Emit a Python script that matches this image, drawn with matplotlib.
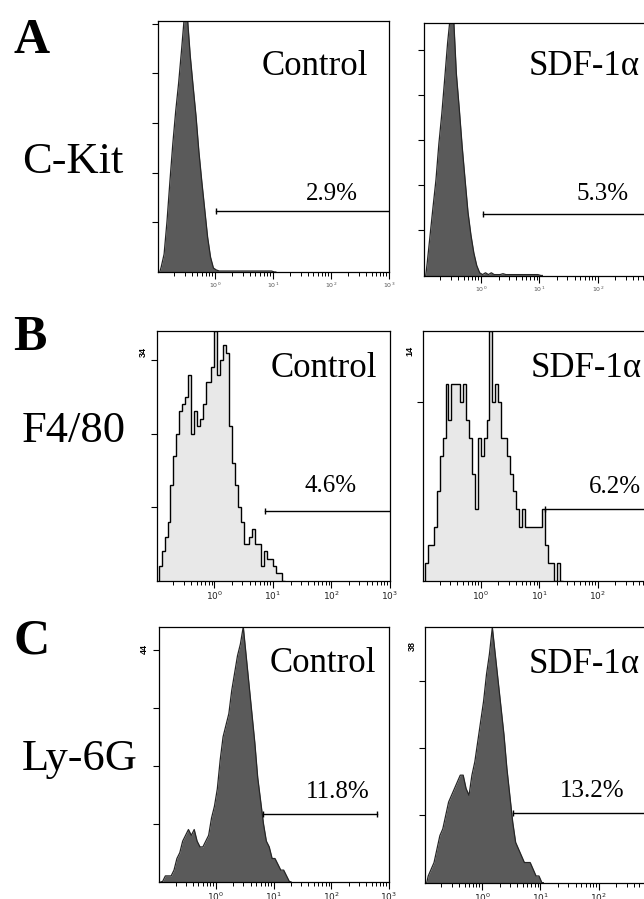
import numpy as np
import matplotlib.pyplot as plt
from matplotlib.ticker import LogLocator, NullFormatter, FixedLocator

plt.rcParams['font.family'] = ['Liberation Serif', 'DejaVu Serif']

W, H = 644, 899

row_letters = ["A", "B", "C"]
markers = ["C-Kit", "F4/80", "Ly-6G"]
groups = ["Control", "SDF-1\u03b1"]
percent = [["2.9%", "5.3%"], ["4.6%", "6.2%"], ["11.8%", "13.2%"]]

# histogram counts, bins of 0.05 decade starting at 10^-0.95
bin_start = -0.95
bin_step = 0.05
ckit_ctrl = [5, 18, 51, 91, 129, 162, 190, 223, 258, 258, 218, 187, 157, 121, 91, 63, 35, 15, 4, 2,
             1, 1, 1, 1, 1, 1, 1, 1, 1, 1, 1, 1, 1, 1, 1, 1, 1, 1, 1, 0]
ckit_sdf = [14, 45, 76, 106, 146, 179, 218, 258, 290, 290, 224, 185, 143, 106, 70, 45, 25, 11, 3, 1,
            3, 1, 3, 1, 1, 1, 2, 1, 1, 1, 1, 1, 1, 1, 1, 1, 1, 1, 1, 0]
f480_ctrl = [2, 4, 6, 8, 13, 17, 20, 23, 24, 25, 28, 20, 23, 21, 22, 24, 27, 27, 29, 34,
             28, 30, 32, 31, 21, 16, 13, 10, 8, 5, 5, 6, 7, 5, 5, 2, 4, 3, 3, 2, 1, 1, 0]
f480_sdf = [1, 2, 2, 3, 5, 7, 8, 11, 9, 11, 11, 11, 10, 11, 9, 8, 6, 4, 8, 7, 8, 9, 14, 10,
            11, 10, 8, 8, 7, 6, 5, 4, 3, 4, 3, 3, 3, 3, 3, 3, 4, 2, 1, 1, 0, 1, 0]
ly6g_ctrl = [0, 1, 1, 1, 2, 4, 5, 7, 8, 9, 8, 9, 7, 6, 6, 7, 8, 11, 13, 16, 21, 25, 27, 29,
             33, 36, 39, 41, 44, 39, 34, 29, 24, 18, 14, 10, 7, 6, 4, 4, 3, 2, 2, 1, 0]
ly6g_sdf = [1, 2, 3, 5, 7, 8, 10, 12, 13, 14, 15, 16, 16, 14, 13, 16, 18, 21, 24, 27, 31, 34,
            38, 34, 30, 26, 22, 17, 13, 9, 6, 5, 4, 3, 3, 3, 2, 1, 1, 0]
hists = [[ckit_ctrl, ckit_sdf], [f480_ctrl, f480_sdf], [ly6g_ctrl, ly6g_sdf]]

y_max = [[253, 280], [34, 14], [44, 38]]
y_max_label = [[None, None], ["34", "14"], ["44", "38"]]
y_tick_step = [[50, 50], [10, 10], [10, 10]]

# marker gates (M1)
gate_start = [[1.05, 1.07], [7.2, 12.5], [6.5, 3.4]]
gate_end = [[1000, 1000], [1000, 1000], [617, 1000]]
gate_y = [[61, 68], [9.5, 4.0], [11.7, 10.3]]

# layout (pixel boxes: left, top, right, bottom)
boxes = [[(158, 20.7, 389, 272), (424, 23, 656, 275.5)],
         [(157, 330.5, 390, 580.7), (423.3, 330.7, 656.3, 580.7)],
         [(159.3, 626.7, 389, 881.7), (425, 627.3, 657, 882.7)]]
grp_pos = [[(0.909, 0.785), (0.93, 0.794)], [(0.944, 0.815), (0.937, 0.815)],
           [(0.946, 0.822), (0.927, 0.821)]]
pct_pos = [[(0.751, 0.287), (0.77, 0.299)], [(0.747, 0.355), (0.823, 0.351)],
           [(0.777, 0.328), (0.72, 0.336)]]
ymax_pos = [[None, None], [(-0.058, 0.915), (-0.058, 0.92)],
            [(-0.064, 0.912), (-0.054, 0.927)]]
letter_base = [53, 350, 653]
marker_base = [173, 442, 770]

fig = plt.figure(figsize=(W / 100, H / 100), dpi=100)

for r in range(3):
    fig.text(13 / W, 1 - letter_base[r] / H, row_letters[r], fontsize=36,
             fontweight='bold', va='baseline', ha='left')
    fig.text(22 / W, 1 - marker_base[r] / H, markers[r], fontsize=32,
             va='baseline', ha='left')
    for c in range(2):
        l, t, rr, b = boxes[r][c]
        ax = fig.add_axes([l / W, 1 - b / H, (rr - l) / W, (b - t) / H])
        counts = np.array(hists[r][c], dtype=float)
        edges = 10 ** (bin_start + bin_step * np.arange(len(counts) + 1))
        if r == 1:
            # F4/80: open step histogram, light fill
            ax.stairs(counts, edges, fill=True, color='#e8e8e8')
            ax.stairs(counts, edges, color='black', lw=1.0)
        else:
            # dense histograms drawn through bin centres
            centres = 10 ** (bin_start + bin_step * (np.arange(len(counts)) + 0.5))
            xs = np.concatenate([[edges[0]], centres, [edges[-1]]])
            ys = np.concatenate([[0], counts, [0]])
            ax.fill_between(xs, 0, ys, color='#5a5a5a', lw=0)
            ax.plot(xs, ys, color='#262626', lw=0.9)

        ax.set_xscale('log')
        ax.set_xlim(10 ** -0.98, 1000)
        ax.set_ylim(0, y_max[r][c])

        # gate
        gx = [gate_start[r][c], gate_end[r][c]]
        gy = [gate_y[r][c], gate_y[r][c]]
        ax.plot(gx, gy, color='black', lw=1.0)
        ax.plot([gx[0]], [gy[0]], marker='|', ms=5, mew=1.0, color='black')
        if gate_end[r][c] < 1000:
            ax.plot([gx[1]], [gy[1]], marker='|', ms=5, mew=1.0, color='black')

        gxp, gyp = grp_pos[r][c]
        ax.text(gxp, gyp, groups[c], transform=ax.transAxes, fontsize=25,
                ha='right', va='baseline')
        pxp, pyp = pct_pos[r][c]
        ax.text(pxp, pyp, percent[r][c], transform=ax.transAxes, fontsize=18,
                ha='center', va='baseline')
        if y_max_label[r][c]:
            mx, my = ymax_pos[r][c]
            ax.text(mx, my, y_max_label[r][c], transform=ax.transAxes, fontsize=6.5,
                    rotation=90, ha='center', va='center', fontweight='bold',
                    family='Liberation Sans')

        ticks_y = np.arange(y_tick_step[r][c], y_max[r][c] + 0.01, y_tick_step[r][c])
        ax.yaxis.set_major_locator(FixedLocator(ticks_y))
        ax.set_yticklabels([])
        ax.xaxis.set_major_locator(FixedLocator([1, 10, 100, 1000]))
        ax.xaxis.set_minor_locator(LogLocator(base=10, subs=np.arange(2, 10), numticks=12))
        ax.xaxis.set_minor_formatter(NullFormatter())
        if r == 0:
            ax.set_xticklabels([r'$10^{0}$', r'$10^{1}$', r'$10^{2}$', r'$10^{3}$'],
                               fontsize=4.5, color='#555555', family='Liberation Sans')
        else:
            ax.set_xticklabels([r'$10^{0}$', r'$10^{1}$', r'$10^{2}$', r'$10^{3}$'],
                               fontsize=6.5, color='#222222', family='Liberation Sans')
        ax.tick_params(axis='x', which='major', direction='out', length=5, width=0.8, pad=1.5)
        ax.tick_params(axis='x', which='minor', direction='out', length=3, width=0.7)
        ax.tick_params(axis='y', which='major', direction='out', length=4, width=0.8)
        for s in ax.spines.values():
            s.set_linewidth(0.9)
            s.set_color('black')

fig.savefig('out.png', dpi=100)
